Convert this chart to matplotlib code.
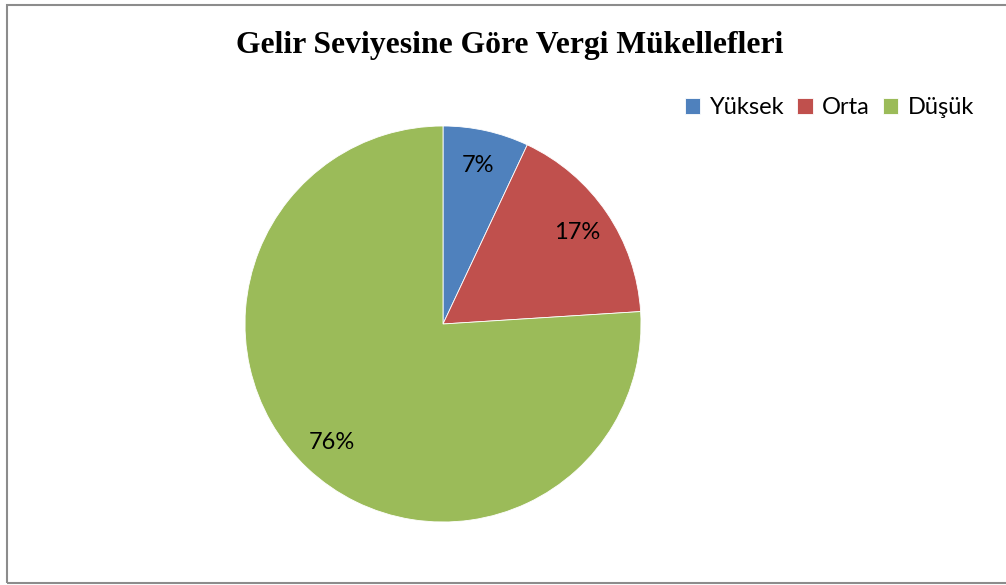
import matplotlib
matplotlib.use("Agg")
import matplotlib.pyplot as plt
from matplotlib.patches import Rectangle

categories = ["Yüksek", "Orta", "Düşük"]
values = [7, 17, 76]
colors = ["#4F81BD", "#C0504D", "#9BBB59"]
title = "Gelir Seviyesine Göre Vergi Mükellefleri"

W, H = 1006, 585
fig = plt.figure(figsize=(W / 100, H / 100), dpi=100)
fig.patch.set_facecolor("white")

# border (right edge runs off the image)
fig.add_artist(Rectangle((6.5 / W, (H - 583) / H), (W + 10) / W, (583 - 5) / H,
                         transform=fig.transFigure, fill=False,
                         edgecolor="#8c8c8c", linewidth=1.5))

cx, cy, r = 443, 324, 198
ax = fig.add_axes([(cx - r) / W, (H - cy - r) / H, 2 * r / W, 2 * r / H])
wedges, texts, autotexts = ax.pie(values, colors=colors, startangle=90, counterclock=False,
                                  autopct=lambda p: f"{p:.0f}%", pctdistance=0.82,
                                  radius=1.0, wedgeprops=dict(edgecolor="white", linewidth=0.6),
                                  textprops=dict(fontsize=17, family="Lato", color="black"))
ax.set_xlim(-1, 1)
ax.set_ylim(-1, 1)
ax.set_aspect("equal")
ax.axis("off")

fig.text(510 / W, 1 - 45 / H, title, ha="center", va="center", fontsize=22.8,
         fontweight="bold", family="Liberation Serif")

leg = fig.legend(wedges, categories, loc="center right", bbox_to_anchor=(974 / W, 1 - 108 / H),
                 ncol=3, frameon=False, prop=dict(family="Lato", size=17),
                 handlelength=0.65, handleheight=0.65, handletextpad=0.4, columnspacing=0.55,
                 borderaxespad=0, borderpad=0)

fig.savefig("out.png", dpi=100, facecolor="white")
